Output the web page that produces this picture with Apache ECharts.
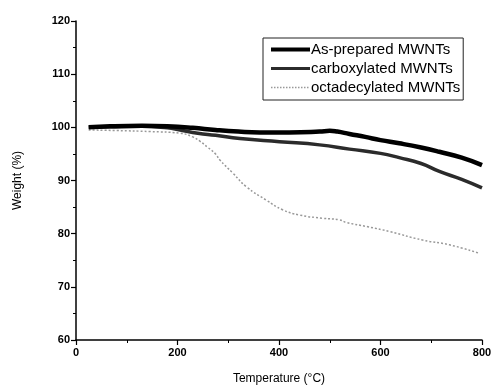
<!DOCTYPE html>
<html>
<head>
<meta charset="utf-8">
<script src="https://cdn.jsdelivr.net/npm/echarts@6/dist/echarts.min.js"></script>
<style>html,body{margin:0;padding:0;background:#fff}#c{width:491px;height:387px}</style>
</head>
<body>
<div id="c"></div>
<script>
const seriesNames = ['As-prepared MWNTs', 'carboxylated MWNTs', 'octadecylated MWNTs'];
const asPrepared = [[25,100],[67,100.2],[130,100.3],[180,100.2],[230,99.9],[275,99.5],[320,99.2],[362,99.05],[420,99.05],[480,99.2],[500,99.35],[515,99.2],[539,98.75],[570,98.2],[600,97.6],[637,97.0],[680,96.2],[716,95.4],[760,94.3],[800,92.9]];
const carboxylated = [[25,100],[67,100.1],[130,100.2],[180,99.9],[205,99.5],[240,98.9],[275,98.5],[323,97.9],[401,97.3],[480,96.7],[539,95.9],[600,95.1],[637,94.3],[680,93.2],[716,91.7],[760,90.2],[800,88.6]];
const octadecylated = [[25,99.5],[80,99.4],[146,99.2],[205,98.9],[230,98.2],[244,97.4],[260,96.2],[275,95.0],[283,93.9],[309,91.4],[336,88.8],[375,86.3],[407,84.5],[441,83.5],[486,82.9],[519,82.6],[533,82.1],[575,81.3],[618,80.4],[683,78.8],[736,77.9],[795,76.3]];
const xTicks = {min: 0, max: 800, interval: 200};
const yTicks = {min: 60, max: 120, interval: 10};

// legend icons: a band of given thickness centred in a 39x15 box
function bandIcon(th) {
  const y0 = 7.5 - th / 2, y1 = 7.5 + th / 2;
  return 'path://M0,0L39,0L39,0.01L0,0.01Z M0,' + y0 + 'L39,' + y0 + 'L39,' + y1 + 'L0,' + y1 + 'Z M0,15L39,15L39,14.99L0,14.99Z';
}
function dotIcon() {
  let p = 'path://M0,0L39,0L39,0.01L0,0.01Z M0,15L39,15L39,14.99L0,14.99Z';
  for (let x = 0; x < 39; x += 3) p += ' M' + x + ',6.8L' + (x + 1.5) + ',6.8L' + (x + 1.5) + ',8.2L' + x + ',8.2Z';
  return p;
}

const chart = echarts.init(document.getElementById('c'), null, {renderer: 'canvas'});
const font = 'Liberation Sans, Arial, sans-serif';
chart.setOption({
  animation: false,
  backgroundColor: '#fff',
  grid: {left: 76, right: 9, top: 21, bottom: 47, outerBoundsMode: 'none', containLabel: false},
  legend: {
    left: 263, top: 38, orient: 'vertical',
    itemWidth: 39, itemHeight: 15, itemGap: 4,
    padding: [4, 3, 5, 8],
    borderColor: '#222', borderWidth: 1,
    textStyle: {fontFamily: font, fontSize: 15, color: '#000', padding: [0,0,0,-4]},
    data: [
      {name: seriesNames[0], icon: bandIcon(4), itemStyle: {color: '#000'}},
      {name: seriesNames[1], icon: bandIcon(3), itemStyle: {color: '#2b2b2b'}},
      {name: seriesNames[2], icon: dotIcon(), itemStyle: {color: '#999'}}
    ]
  },
  xAxis: {
    type: 'value', min: xTicks.min, max: xTicks.max, interval: xTicks.interval,
    name: 'Temperature (°C)', nameLocation: 'middle', nameGap: 33,
    nameTextStyle: {fontFamily: font, fontSize: 12, color: '#000'},
    axisLine: {lineStyle: {color: '#000', width: 1.5}},
    axisTick: {show: true, inside: false, length: 5, lineStyle: {color: '#000', width: 1.2}},
    minorTick: {show: true, splitNumber: 2, length: 3, lineStyle: {color: '#000'}},
    splitLine: {show: false},
    axisLabel: {fontFamily: font, fontSize: 11, fontWeight: 'bold', color: '#000', margin: 7}
  },
  yAxis: {
    type: 'value', min: yTicks.min, max: yTicks.max, interval: yTicks.interval,
    name: 'Weight (%)', nameLocation: 'middle', nameGap: 52,
    nameTextStyle: {fontFamily: font, fontSize: 12, color: '#000'},
    axisLine: {show: true, lineStyle: {color: '#000', width: 1.5}},
    axisTick: {show: true, inside: false, length: 5, lineStyle: {color: '#000', width: 1.2}},
    minorTick: {show: true, splitNumber: 2, length: 3, lineStyle: {color: '#000'}},
    splitLine: {show: false},
    axisLabel: {fontFamily: font, fontSize: 11, fontWeight: 'bold', color: '#000', margin: 6}
  },
  series: [
    {name: seriesNames[0], type: 'line', data: asPrepared, showSymbol: false, symbol: 'none', smooth: true,
     lineStyle: {color: '#000', width: 4.5}, itemStyle: {color: '#000'}, z: 3},
    {name: seriesNames[1], type: 'line', data: carboxylated, showSymbol: false, symbol: 'none', smooth: true,
     lineStyle: {color: '#2b2b2b', width: 3.5}, itemStyle: {color: '#2b2b2b'}, z: 2},
    {name: seriesNames[2], type: 'line', data: octadecylated, showSymbol: false, symbol: 'none', smooth: true,
     lineStyle: {color: '#999', width: 1.5, type: [2, 2]}, itemStyle: {color: '#999'}, z: 1}
  ]
});
</script>
</body>
</html>
